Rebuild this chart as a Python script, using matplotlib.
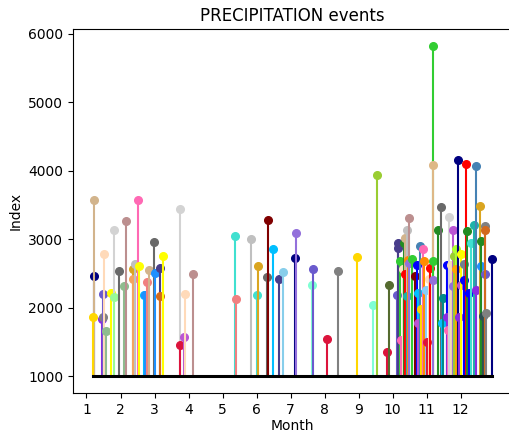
import numpy as np
import matplotlib
matplotlib.use("Agg")
import matplotlib.pyplot as plt

# month (with day fraction), index value, colour of each event
month = [1.21, 1.21, 1.19, 1.46, 1.49, 1.49, 1.50, 1.58, 1.73, 1.80, 1.82, 1.97,
         2.10, 2.15, 2.36, 2.38, 2.43, 2.51, 2.53, 2.69, 2.71, 2.77, 2.85, 2.98,
         3.02, 3.16, 3.16, 3.26, 3.76, 3.76, 3.88, 3.90, 4.12,
         5.36, 5.39, 5.83, 6.00, 6.05, 6.30, 6.33, 6.47, 6.66, 6.78, 7.13, 7.15,
         7.63, 7.65, 8.07, 8.38, 8.95, 9.43, 9.53, 9.84, 9.89,
         10.14, 10.17, 10.17, 10.20, 10.24, 10.30, 10.33, 10.36, 10.36, 10.41, 10.41,
         10.45, 10.48, 10.48, 10.56, 10.65, 10.70, 10.73, 10.73, 10.80, 10.82, 10.90,
         10.92, 10.99, 11.02, 11.06, 11.10, 11.17, 11.17, 11.17, 11.19, 11.34, 11.42,
         11.45, 11.48, 11.61, 11.61, 11.63, 11.66, 11.72, 11.77, 11.77, 11.80, 11.85,
         11.86, 11.91, 11.95, 12.00, 12.02, 12.10, 12.10, 12.16, 12.17, 12.24, 12.29,
         12.39, 12.44, 12.46, 12.56, 12.59, 12.60, 12.65, 12.70, 12.72, 12.72, 12.75,
         12.92]
index = [2462, 3570, 1865, 1831, 1860, 2206, 2779, 1661, 2210, 3143, 2162, 2536,
         2317, 3264, 2560, 2424, 2633, 3570, 2618, 2191, 2191, 2376, 2550, 2964,
         2502, 2585, 2171, 2764, 3449, 1462, 1569, 2206, 2498,
         3045, 2123, 3006, 2186, 2609, 2449, 3279, 2866, 2414, 2521, 2730, 3085,
         2341, 2560, 1550, 2536, 2745, 2040, 3935, 1360, 2331,
         2181, 2949, 2876, 2691, 1525, 2560, 2949, 3022, 2487, 3129, 2171,
         2700, 3314, 2648, 2720, 2462, 2623, 2220, 1783, 2900, 1977, 2852,
         2691, 2254, 1500, 2414, 2585, 5826, 4081, 2681, 2400, 3143, 3474,
         1783, 2147, 2623, 1869, 1675, 3328, 2620, 3133, 2317, 2750, 2852,
         2560, 4154, 1869, 2327, 2779, 2633, 2400, 4100, 3118, 2220, 2949,
         3206, 4076, 2268, 3493, 2618, 2973, 1879, 2498, 3192, 3143, 1928,
         2706]
colors = ['navy', 'tan', 'gold', 'blueviolet', 'gray', 'slateblue', 'peachpuff',
          'darkseagreen', 'yellow', 'lightgray', 'palegreen', 'dimgray',
          'darkseagreen', 'rosybrown', 'goldenrod', 'sandybrown', 'silver', 'hotpink',
          'yellow', 'deepskyblue', 'dodgerblue', 'lightcoral', 'tan', 'dimgray',
          'dodgerblue', 'darkslateblue', 'chocolate', 'yellow', 'lightgray', 'crimson',
          'mediumorchid', 'peachpuff', 'rosybrown',
          'turquoise', 'lightcoral', 'silver', 'turquoise', 'goldenrod', 'dimgray',
          'maroon', 'deepskyblue', 'darkslateblue', 'skyblue', 'navy', 'mediumpurple',
          'aquamarine', 'slateblue', 'crimson', 'gray', 'gold', 'aquamarine',
          'yellowgreen', 'crimson', 'darkolivegreen',
          'slateblue', 'darkslateblue', 'darkslateblue', 'limegreen', 'hotpink',
          'bisque', 'forestgreen', 'tan', 'red', 'silver', 'lightseagreen',
          'darkorange', 'rosybrown', 'mediumpurple', 'limegreen', 'maroon', 'blue',
          'deepskyblue', 'mediumorchid', 'steelblue', 'gold', 'hotpink',
          'darkorange', 'lightskyblue', 'crimson', 'peachpuff', 'red', 'limegreen',
          'burlywood', 'limegreen', 'mediumpurple', 'forestgreen', 'dimgray',
          'deepskyblue', 'darkcyan', 'blue', 'blueviolet', 'hotpink', 'lightgray',
          'wheat', 'mediumorchid', 'mediumpurple', 'yellowgreen', 'greenyellow',
          'orange', 'navy', 'blueviolet', 'mediumorchid', 'yellow', 'slategray',
          'blue', 'red', 'forestgreen', 'blue', 'turquoise',
          'lightseagreen', 'steelblue', 'blueviolet', 'goldenrod', 'dodgerblue',
          'forestgreen', 'darkslategray', 'slateblue', 'gray', 'chocolate', 'gray',
          'navy']

base = 1000

fig = plt.figure(figsize=(5.10, 4.33), dpi=100)
ax = fig.add_axes([73/510, 40/433, 439/510, 364/433])

for xi, yi, c in zip(month, index, colors):
    ax.plot([xi, xi], [base, yi], color=c, lw=1.5)
    ax.plot(xi, yi, 'o', color=c, ms=5.5)

ax.plot([min(month), max(month)], [base, base], color='k', lw=2.2)

# the right edge of the frame falls outside the picture
ax.spines['right'].set_visible(False)

ax.set_xticks(range(1, 13))
ax.set_title("PRECIPITATION events")
ax.set_xlabel("Month", labelpad=2)
ax.set_ylabel("Index")

fig.savefig("out.png", dpi=100)
